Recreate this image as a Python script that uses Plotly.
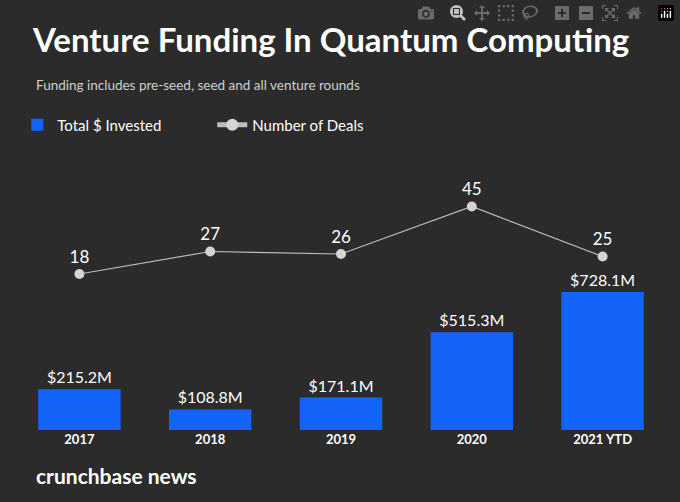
import plotly.graph_objects as go

years = ["2017", "2018", "2019", "2020", "2021 YTD"]
invested = [215.2, 108.8, 171.1, 515.3, 728.1]
deals = [18, 27, 26, 45, 25]
invested_labels = ["$215.2M", "$108.8M", "$171.1M", "$515.3M", "$728.1M"]

BG = "#2b2b2b"
FONT = "Lato"

fig = go.Figure()
fig.add_trace(go.Bar(
    x=years, y=invested, name="Total $ Invested",
    marker=dict(color="#1464fa", line=dict(width=0)),
    width=0.63,
    text=invested_labels, textposition="outside", cliponaxis=False,
    textfont=dict(color="white", size=16, family=FONT),
))
fig.add_trace(go.Scatter(
    x=years, y=deals, name="Number of Deals", yaxis="y2",
    mode="lines+markers+text",
    line=dict(color="#bdbdbd", width=1.2),
    marker=dict(color="#d4d4d4", size=10),
    text=[str(d) for d in deals], textposition="top center",
    textfont=dict(color="white", size=17, family=FONT),
    cliponaxis=False,
))

fig.update_layout(
    width=680, height=502,
    paper_bgcolor=BG, plot_bgcolor=BG,
    margin=dict(l=14, r=12, t=180, b=72),
    font=dict(family=FONT, color="white"),
    bargap=0.37,
    xaxis=dict(showgrid=False, zeroline=False, showline=False,
               tickfont=dict(size=13, color="white", family=FONT, weight="bold")),
    yaxis=dict(range=[0, 1319], visible=False),
    yaxis2=dict(range=[-44.4, 55.6], overlaying="y", visible=False),
    showlegend=True,
    legend=dict(orientation="h", x=0.005, xanchor="left", y=1.22, yanchor="middle",
                yref="paper", bgcolor="rgba(0,0,0,0)",
                font=dict(size=15, color="white", family=FONT),
                itemsizing="constant", tracegroupgap=0, entrywidth=150),
    annotations=[
        dict(text="<b>Venture Funding In Quantum Computing</b>", xref="paper", yref="paper",
             x=0, y=1.0, xanchor="left", yanchor="middle", showarrow=False,
             yshift=141, xshift=16, font=dict(size=33, color="white", family=FONT)),
        dict(text="Funding includes pre-seed, seed and all venture rounds", xref="paper", yref="paper",
             x=0, y=1.0, xanchor="left", yanchor="middle", showarrow=False,
             yshift=95, xshift=20, font=dict(size=13.5, color="#cfcfcf", family=FONT)),
        dict(text="<b>crunchbase news</b>", xref="paper", yref="paper",
             x=0, y=0, xanchor="left", yanchor="middle", showarrow=False,
             yshift=-45, xshift=20, font=dict(size=21, color="white", family=FONT)),
    ],
)

fig.write_html("out.html", post_script="document.body.style.margin='0';")
